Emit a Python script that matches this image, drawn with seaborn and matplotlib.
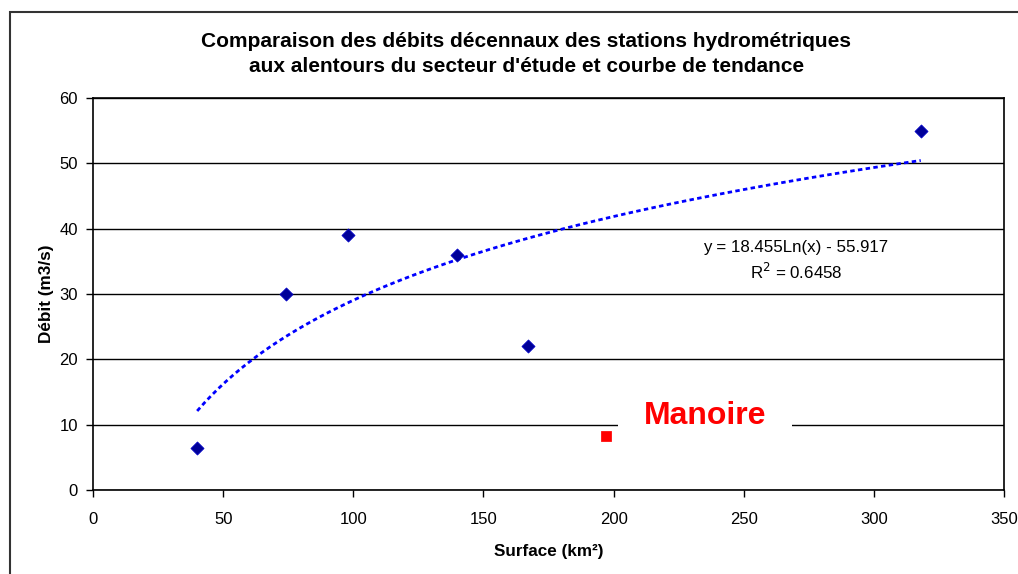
import numpy as np
import pandas as pd
import seaborn as sns
import matplotlib.pyplot as plt
from matplotlib.patches import Rectangle

# Stations hydrométriques (surface km², débit décennal m3/s)
surface = [40, 74, 98, 140, 167, 318]
debit = [6.5, 30, 39, 36, 22, 55]

# Secteur d'étude
manoire_surface = [197]
manoire_debit = [8.3]

equation = "y = 18.455Ln(x) - 55.917"
r2_text = "R$^2$ = 0.6458"

df = pd.DataFrame({"Surface": surface, "Debit": debit})
df_man = pd.DataFrame({"Surface": manoire_surface, "Debit": manoire_debit})

sns.set_style("white")
plt.rcParams['font.family'] = ['Liberation Sans', 'DejaVu Sans']
plt.rcParams['text.color'] = 'black'
plt.rcParams['axes.labelcolor'] = 'black'

fig = plt.figure(figsize=(10.18, 5.74), dpi=100)
ax = fig.add_axes([0.0914, 0.1463, 0.8949, 0.6829])

# cadre du graphique
fig.patches.append(Rectangle((10 / 1018, -0.1), 1.2, 1 - 12 / 574 + 0.1,
                             transform=fig.transFigure, fill=False,
                             edgecolor='#333333', linewidth=1.5))

# courbe de tendance logarithmique
sns.regplot(data=df, x="Surface", y="Debit", logx=True, ci=None, scatter=False,
            ax=ax, line_kws=dict(color='#0000FF', linewidth=2,
                                 linestyle=(0, (1.6, 1.2))))

sns.scatterplot(data=df, x="Surface", y="Debit", marker='D', s=45,
                color='#000099', edgecolor='#0000CC', linewidth=0.5, ax=ax, zorder=4)
sns.scatterplot(data=df_man, x="Surface", y="Debit", marker='s', s=45,
                color='#FF0000', edgecolor='#FF0000', ax=ax, zorder=4)

ax.set_xlim(0, 350)
ax.set_ylim(0, 60)
ax.set_xticks(range(0, 351, 50))
ax.set_yticks(range(0, 61, 10))
ax.yaxis.grid(True, color='black', linewidth=1)
ax.set_axisbelow(True)
for sp in ax.spines.values():
    sp.set_color('black')
    sp.set_linewidth(1.2)
ax.tick_params(axis='both', direction='out', length=5, width=1, colors='black',
               labelsize=12, bottom=True, left=True)
ax.tick_params(axis='x', pad=11)
ax.tick_params(axis='y', pad=6)

ax.text(270, 35, equation + "\n" + r2_text, ha='center', va='center',
        fontsize=12.2, linespacing=1.4)
ax.text(235, 11.3, "Manoire", ha='center', va='center', color='#FF0000',
        fontsize=23, fontweight='bold',
        bbox=dict(facecolor='white', edgecolor='none', boxstyle='square,pad=0.8'))

ax.set_xlabel("Surface (km²)", fontsize=12.3, fontweight='bold', labelpad=12)
ax.set_ylabel("Débit (m3/s)", fontsize=12.3, fontweight='bold', labelpad=4)
fig.text(0.517, 1 - 54 / 574,
         "Comparaison des débits décennaux des stations hydrométriques\n"
         "aux alentours du secteur d'étude et courbe de tendance",
         ha='center', va='center', fontsize=15, fontweight='bold', linespacing=1.35)

fig.savefig("out.png", dpi=100)
